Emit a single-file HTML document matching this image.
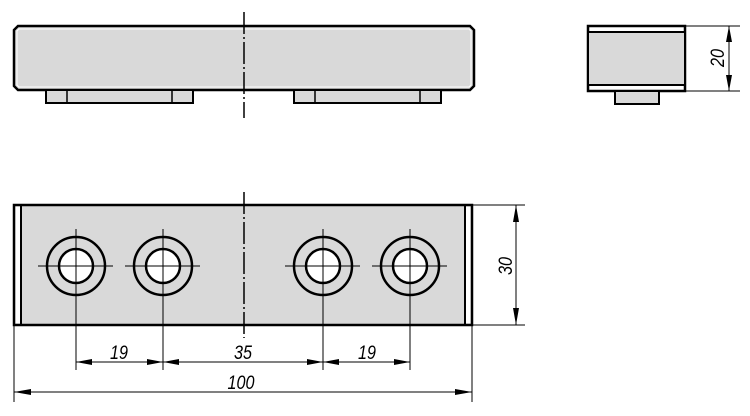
<!DOCTYPE html>
<html><head><style>html,body{margin:0;padding:0;background:#fff;width:750px;height:416px;overflow:hidden}</style></head>
<body>
<svg width="750" height="416" viewBox="0 0 750 416" xmlns="http://www.w3.org/2000/svg" font-family="Liberation Sans, sans-serif">
<g stroke="#000" fill="#d9d9d9">
<path d="M18,26 L470,26 L474,30 L474,86 L470,90 L18,90 L14,86 L14,30 Z" stroke-width="2.5"/>
<path d="M19,29 L469,29 L471,31 L471,85 L469,87 L19,87 L17,85 L17,31 Z" stroke="#fff" stroke-width="1" fill="none"/>
<rect x="46" y="90" width="147" height="13" stroke-width="2"/>
<line x1="67" y1="90" x2="67" y2="103" stroke-width="1.5"/>
<line x1="172" y1="90" x2="172" y2="103" stroke-width="1.5"/>
<rect x="294" y="90" width="147" height="13" stroke-width="2"/>
<line x1="315" y1="90" x2="315" y2="103" stroke-width="1.5"/>
<line x1="420" y1="90" x2="420" y2="103" stroke-width="1.5"/>
<rect x="588" y="26" width="97" height="65" stroke-width="2.5" fill="#fff"/>
<rect x="589" y="33" width="95" height="51" stroke="none"/>
<line x1="588" y1="32" x2="685" y2="32" stroke-width="2"/>
<line x1="588" y1="85" x2="685" y2="85" stroke-width="2"/>
<rect x="615" y="91" width="44" height="13" stroke-width="2"/>
<rect x="14" y="205" width="458" height="120" stroke-width="2.5"/>
<rect x="15.5" y="206.5" width="5" height="117" fill="#fff" stroke="none"/>
<rect x="466" y="206.5" width="4.5" height="117" fill="#fff" stroke="none"/>
<line x1="21" y1="205" x2="21" y2="325" stroke-width="2"/>
<line x1="465" y1="205" x2="465" y2="325" stroke-width="2"/>
</g>
<g stroke="#000" stroke-width="2.5" fill="none">
<circle cx="76" cy="266" r="29"/><circle cx="76" cy="266" r="17" fill="#fff"/>
<circle cx="163" cy="266" r="29"/><circle cx="163" cy="266" r="17" fill="#fff"/>
<circle cx="323" cy="266" r="29"/><circle cx="323" cy="266" r="17" fill="#fff"/>
<circle cx="410" cy="266" r="29"/><circle cx="410" cy="266" r="17" fill="#fff"/>
</g>
<g stroke="#000" stroke-width="1">
<line x1="38" y1="266" x2="113" y2="266"/><line x1="125" y1="266" x2="200" y2="266"/>
<line x1="285" y1="266" x2="360" y2="266"/><line x1="372" y1="266" x2="447" y2="266"/>
<line x1="76" y1="229" x2="76" y2="370"/><line x1="163" y1="229" x2="163" y2="370"/>
<line x1="323" y1="229" x2="323" y2="370"/><line x1="410" y1="229" x2="410" y2="370"/>
<line x1="14" y1="325" x2="14" y2="402"/><line x1="472" y1="325" x2="472" y2="402"/>
<line x1="472" y1="205" x2="525" y2="205"/><line x1="472" y1="325" x2="525" y2="325"/>
<line x1="685" y1="26" x2="740" y2="26"/><line x1="685" y1="91" x2="740" y2="91"/>
<line x1="76" y1="362" x2="410" y2="362"/>
<line x1="14" y1="392" x2="472" y2="392"/>
<line x1="516" y1="205" x2="516" y2="325"/>
<line x1="729" y1="26" x2="729" y2="91"/>
</g>
<g stroke="#000" stroke-width="1.5" stroke-dasharray="22,3,2,3">
<line x1="244" y1="12" x2="244" y2="118"/>
<line x1="244" y1="192" x2="244" y2="338"/>
</g>
<g fill="#000">
<path d="M76,362 l16,-3 v6z M163,362 l-16,-3 v6z M163,362 l16,-3 v6z M323,362 l-16,-3 v6z M323,362 l16,-3 v6z M410,362 l-16,-3 v6z"/>
<path d="M14,392 l17,-3 v6z M472,392 l-17,-3 v6z"/>
<path d="M516,205 l-3,17 h6z M516,325 l-3,-17 h6z"/>
<path d="M729,26 l-3,16 h6z M729,91 l-3,-16 h6z"/>
</g>
<g font-size="19" font-style="italic" text-anchor="middle" fill="#000">
<text transform="translate(119,359) scale(0.85,1)">19</text>
<text transform="translate(243,359) scale(0.85,1)">35</text>
<text transform="translate(367,359) scale(0.85,1)">19</text>
<text transform="translate(241,389) scale(0.85,1)">100</text>
<text transform="translate(512,266) rotate(-90) scale(0.85,1)">30</text>
<text transform="translate(724,58) rotate(-90) scale(0.85,1)">20</text>
</g>
</svg>
</body></html>
